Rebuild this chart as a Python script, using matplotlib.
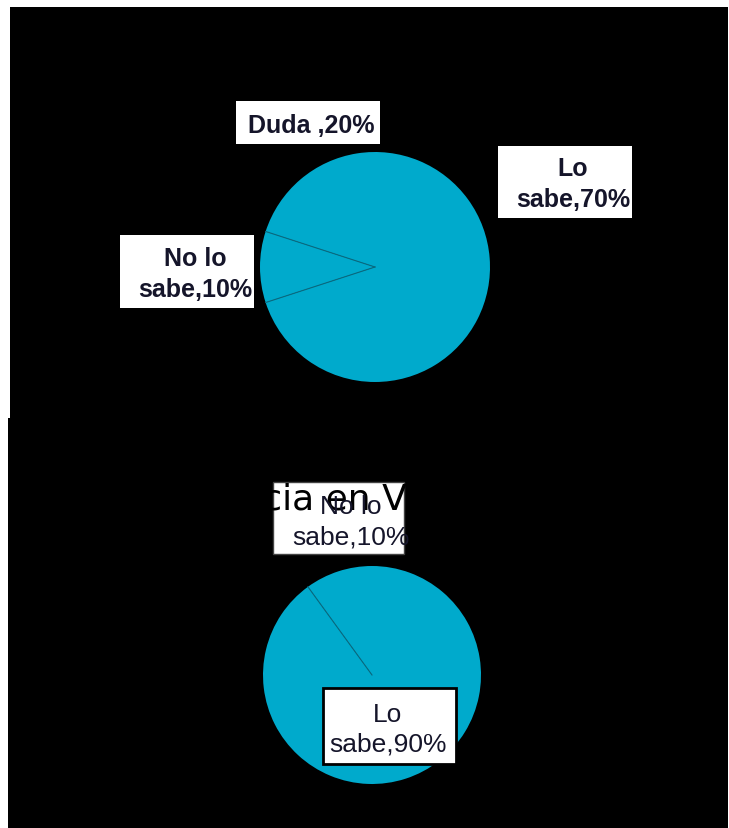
import matplotlib
matplotlib.use('Agg')
import matplotlib.pyplot as plt
from matplotlib.patches import Rectangle
import numpy as np

# ---------------- data ----------------
top_categories = ["No lo sabe", "Duda", "Lo sabe"]
top_values = [10, 20, 70]
top_labels = ["No lo\nsabe,10%", "Duda ,20%", "Lo\nsabe,70%"]

bottom_categories = ["No lo sabe", "Lo sabe"]
bottom_values = [10, 90]
bottom_labels = ["No lo\nsabe,10%", "Lo\nsabe,90%"]
bottom_title = "Incidencia en Venezuela"

# ---------------- style ----------------
PIE_COLOR = '#00AACC'
EDGE_LINE = '#0a6a80'
TEXT_COLOR = '#15152a'
FONT = ['Liberation Sans', 'DejaVu Sans']
plt.rcParams['font.family'] = FONT

W, H = 729, 829
fig = plt.figure(figsize=(W / 100, H / 100), dpi=100)
fig.patch.set_facecolor('white')
ax = fig.add_axes([0, 0, 1, 1])


def Y(y):
    return H - y


# black panels
ax.add_patch(Rectangle((10, Y(419)), 718, 411, facecolor='black', edgecolor='none', zorder=0))
ax.add_patch(Rectangle((8, Y(829)), 720, 410, facecolor='black', edgecolor='none', zorder=0))

# ---------------- top pie ----------------
c_top = (375, Y(268))
r_top = 115
w_top, _ = ax.pie(top_values, center=c_top, radius=r_top, startangle=162,
                  counterclock=True, colors=[PIE_COLOR] * 3,
                  wedgeprops=dict(edgecolor='none', linewidth=0), frame=True)
for th in (w_top[0].theta1, w_top[0].theta2):
    t = np.deg2rad(th)
    ax.plot([c_top[0], c_top[0] + r_top * np.cos(t)],
            [c_top[1], c_top[1] + r_top * np.sin(t)],
            color=EDGE_LINE, lw=0.8, zorder=2)

# ---------------- bottom pie ----------------
c_bot = (372, Y(676))
r_bot = 109
w_bot, _ = ax.pie(bottom_values, center=c_bot, radius=r_bot, startangle=90,
                  counterclock=True, colors=[PIE_COLOR] * 2,
                  wedgeprops=dict(edgecolor='none', linewidth=0), frame=True)
t = np.deg2rad(w_bot[0].theta2)
ax.plot([c_bot[0], c_bot[0] + r_bot * np.cos(t)],
        [c_bot[1], c_bot[1] + r_bot * np.sin(t)],
        color=EDGE_LINE, lw=0.8, zorder=2)

ax.set_xlim(0, W)
ax.set_ylim(0, H)
ax.set_aspect('auto')
ax.axis('off')


def label(text, box, cx, first_baseline, size, weight, edge=None, elw=0, spacing=31):
    x0, y0, x1, y1 = box
    rect = Rectangle((x0, Y(y1)), x1 - x0, y1 - y0, facecolor='white',
                     edgecolor=edge if edge else 'none', linewidth=elw, zorder=3)
    ax.add_patch(rect)
    clip = Rectangle((x0, Y(y1)), x1 - x0, y1 - y0, transform=ax.transData)
    for i, line in enumerate(text.split('\n')):
        tx = ax.text(cx, Y(first_baseline + i * spacing), line, ha='center', va='baseline',
                     fontsize=size, fontweight=weight, color=TEXT_COLOR, zorder=5)
        tx.set_clip_path(clip)


# top labels (bold)
label(top_labels[0], (120, 236, 254, 309), 195, 266, 18, 'bold')
label(top_labels[1], (236, 102, 380, 145), 311, 133, 18, 'bold')
label(top_labels[2], (498, 147, 632, 219), 573, 176, 18, 'bold')

# bottom labels (regular)
label(bottom_labels[0], (273, 483, 404, 555), 351, 514, 19, 'normal', edge='#444444', elw=1, spacing=31)
label(bottom_labels[1], (323, 689, 456, 765), 388, 722, 19, 'normal', edge='black', elw=2, spacing=30)

# bottom title (black, only visible where it crosses the white box)
ax.text(131, Y(510), bottom_title, ha='left', va='baseline', fontsize=26,
        color='black', zorder=4, family='DejaVu Sans')

fig.savefig('out.png', dpi=100, facecolor='white')
